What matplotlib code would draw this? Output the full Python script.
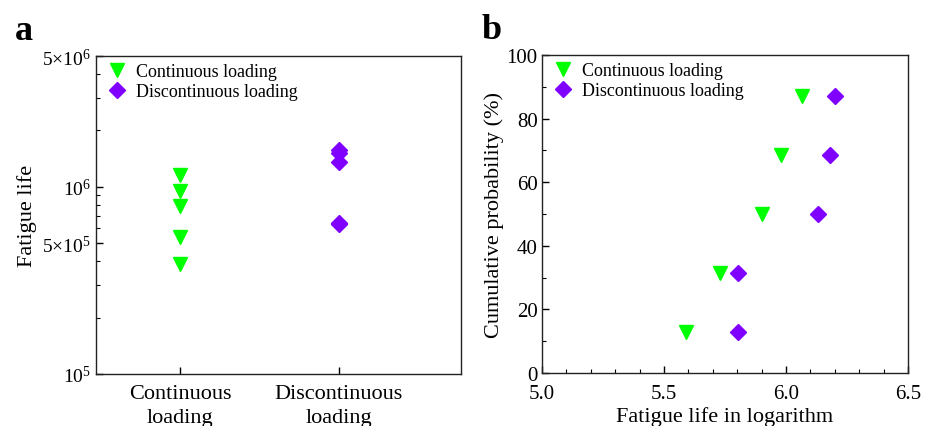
import matplotlib
matplotlib.use("Agg")
import matplotlib.pyplot as plt
from matplotlib.ticker import LogLocator, FixedLocator, MultipleLocator, NullFormatter

plt.rcParams['font.family'] = ['Liberation Serif', 'DejaVu Serif']
plt.rcParams['mathtext.fontset'] = 'custom'
plt.rcParams['mathtext.rm'] = 'Liberation Serif'
plt.rcParams['mathtext.it'] = 'Liberation Serif:italic'

# ---- data ----
categories = ["Continuous\nloading", "Discontinuous\nloading"]
series_names = ["Continuous loading", "Discontinuous loading"]
life_continuous = [3.89e5, 5.37e5, 7.94e5, 9.55e5, 1.16e6]
life_discontinuous = [6.3e5, 6.4e5, 1.35e6, 1.51e6, 1.58e6]
log_continuous = [5.59, 5.73, 5.90, 5.98, 6.065]
log_discontinuous = [5.805, 5.805, 6.13, 6.18, 6.20]
cum_prob = [12.96, 31.48, 50.0, 68.52, 87.04]
ytick_a_vals = [1e5, 5e5, 1e6, 5e6]
ytick_a_labels = [r"$10^5$", r"$5{\times}10^5$", r"$10^6$", r"$5{\times}10^6$"]

green = "#00FF00"
violet = "#8000FF"

fig = plt.figure(figsize=(9.25, 4.27), dpi=100)
axa = fig.add_axes([0.1038, 0.1218, 0.3946, 0.7447])
axb = fig.add_axes([0.5859, 0.1241, 0.3957, 0.7448])

leg_kw = dict(loc='upper left', frameon=False, fontsize=13, handletextpad=0.3,
              borderaxespad=0.1, labelspacing=0.15, handlelength=1.5,
              borderpad=0.3)

# ---- panel a ----
xpos = [1, 2]
axa.plot([xpos[0]] * len(life_continuous), life_continuous, linestyle='none',
         marker='v', ms=10, color=green, label=series_names[0])
axa.plot([xpos[1]] * len(life_discontinuous), life_discontinuous, linestyle='none',
         marker='D', ms=8.5, color=violet, label=series_names[1])
axa.set_yscale('log')
axa.set_ylim(1e5, 5e6)
axa.set_xlim(0.47, 2.77)
axa.set_xticks(xpos)
axa.set_xticklabels(categories, fontsize=16, linespacing=1.35)
axa.yaxis.set_major_locator(FixedLocator(ytick_a_vals))
axa.set_yticklabels(ytick_a_labels, fontsize=14)
axa.yaxis.set_minor_locator(LogLocator(base=10, subs=(2, 3, 4, 6, 7, 8, 9)))
axa.yaxis.set_minor_formatter(NullFormatter())
axa.set_ylabel("Fatigue life", fontsize=16)
axa.tick_params(which='both', direction='in', top=False, right=False)
axa.tick_params(which='major', length=5, width=1)
axa.tick_params(which='minor', length=3, width=0.8)
axa.tick_params(axis='x', pad=7)
axa.legend(**leg_kw)
axa.text(-0.222, 1.053, "a", transform=axa.transAxes, fontsize=26, fontweight='bold',
         ha='left', va='baseline')

# ---- panel b ----
axb.plot(log_continuous, cum_prob, linestyle='none', marker='v', ms=10,
         color=green, label=series_names[0])
axb.plot(log_discontinuous, cum_prob, linestyle='none', marker='D', ms=8.5,
         color=violet, label=series_names[1])
axb.set_xlim(5.0, 6.5)
axb.set_ylim(0, 100)
axb.xaxis.set_major_locator(MultipleLocator(0.5))
axb.xaxis.set_minor_locator(MultipleLocator(0.1))
axb.yaxis.set_major_locator(MultipleLocator(20))
axb.yaxis.set_minor_locator(MultipleLocator(10))
axb.xaxis.set_major_formatter(plt.FuncFormatter(lambda v, p: f"{v:.1f}"))
axb.tick_params(which='both', direction='in', top=False, right=False, labelsize=15)
axb.tick_params(which='major', length=5, width=1)
axb.tick_params(which='minor', length=3, width=0.8)
axb.tick_params(axis='x', pad=8)
axb.tick_params(axis='y', pad=3)
axb.set_xlim(5.0, 6.5)
axb.set_xlabel("Fatigue life in logarithm", fontsize=16, labelpad=2)
axb.set_ylabel("Cumulative probability (%)", fontsize=16, labelpad=2)
axb.legend(**leg_kw)
axb.text(-0.164, 1.053, "b", transform=axb.transAxes, fontsize=26, fontweight='bold',
         ha='left', va='baseline')

for ax in (axa, axb):
    for s in ax.spines.values():
        s.set_color('#222222')
        s.set_linewidth(1.0)

fig.savefig("out.png", dpi=100)
